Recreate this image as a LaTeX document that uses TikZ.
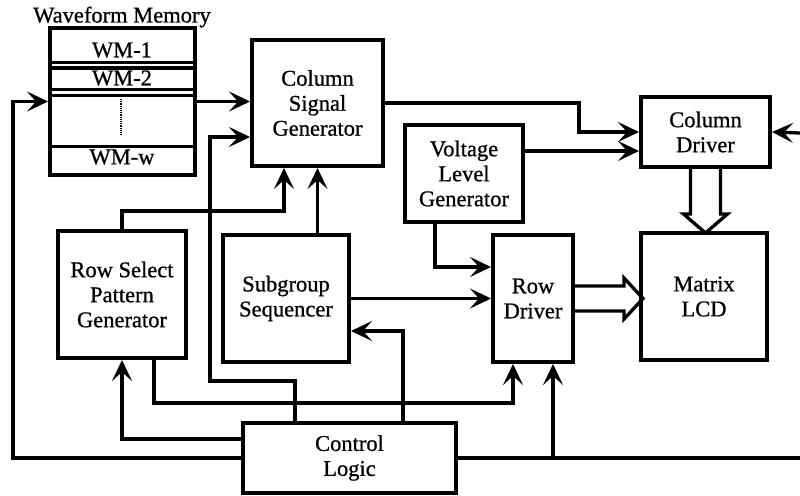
\documentclass[tikz,border=0pt]{standalone}
\usepackage{fontspec}
\setmainfont{Liberation Serif}[FakeBold=0.8]
\usetikzlibrary{arrows.meta}

\begin{document}
\begin{tikzpicture}[x=1pt,y=-1pt,
    >={Stealth[length=21pt,width=20pt,inset=9pt]},
    blk/.style={draw,line width=4pt,align=center,inner sep=0pt,font=\fontsize{22.5}{25}\selectfont},
    lbl/.style={inner sep=0pt,font=\fontsize{22.5}{25}\selectfont},
    wire/.style={line width=3.3pt},
    hollow/.style={line width=3.3pt,line join=miter}]
    \useasboundingbox (0,0) rectangle (800,495);

    % Waveform memory
    \node[blk,minimum width=145pt,minimum height=147pt] (wm) at (122.5,101.5) {};
    \node[lbl] (wmlabel) at (122,17) {Waveform Memory};
    \foreach \y in {62.5,68,89.5,95,146}
        \draw[line width=3pt] (wm.west |- 0,\y) -- (wm.east |- 0,\y);
    \node[lbl] (wm1) at (122,50) {WM-1};
    \node[lbl] (wm2) at (122,78) {WM-2};
    \node[lbl] (wmw) at (122,157) {WM-w};
    \draw[densely dotted,line width=1.2pt] (121,99) -- (121,136);

    % Blocks
    \node[blk,minimum width=131pt,minimum height=126pt] (csg) at (317.5,103) {Column\\Signal\\Generator};
    \node[blk,minimum width=129pt,minimum height=70pt] (cd) at (705.5,132) {Column\\Driver};
    \node[blk,minimum width=118pt,minimum height=97pt] (vlg) at (464,173.5) {Voltage\\Level\\Generator};
    \node[blk,minimum width=128pt,minimum height=127pt] (rspg) at (122,294.5) {Row Select\\Pattern\\Generator};
    \node[blk,minimum width=126pt,minimum height=127pt] (ss) at (286,298.5) {Subgroup\\Sequencer};
    \node[blk,minimum width=80pt,minimum height=127pt] (rd) at (533,298.5) {Row\\Driver};
    \node[blk,minimum width=126pt,minimum height=127pt] (lcd) at (704,296.5) {Matrix\\LCD};
    \node[blk,minimum width=213pt,minimum height=70pt] (ctl) at (349.5,458) {Control\\Logic};

    % Bus ends
    \coordinate (busL) at (13,458);
    \coordinate (busR) at (800,458);
    \coordinate (rdB) at (553,458);
    \coordinate (rin) at (800,133);
    \coordinate (lp) at (210,381);

    % Control logic outputs
    \draw[wire,->] (ctl.west) -- (busL) |- (wm.west);
    \draw[wire] (ctl.east) -- (busR);
    \draw[wire,->] (rdB) -- (rdB |- rd.south);
    \draw[wire,->] ([yshift=19pt]ctl.west) -| (rspg.south);
    \draw[wire,->] ([xshift=-54.5pt]ctl.north) |- (lp) |- ([yshift=-34pt]csg.west);
    \draw[wire,->] ([xshift=53.5pt]ctl.north) |- ([yshift=-32.5pt]ss.east);

    % Signal paths
    \draw[wire,->] (wm.east) -- (wm.east -| csg.west);
    \draw[wire,->] (rspg.north) -- ++(0,-18) -| ([xshift=-33.5pt]csg.south);
    \draw[wire,->] ([xshift=32pt]rspg.south) -- ++(0,43) -| ([xshift=-20pt]rd.south);
    \draw[wire,->] (csg.south |- ss.north) -- (csg.south);
    \draw[wire,->] (ss.east) -- (rd.west);
    \draw[wire,->] ([xshift=-29pt]vlg.south) |- ([yshift=31.5pt]rd.west);
    \draw[wire,->] ([yshift=22.5pt]vlg.east) -- ([yshift=22.5pt]vlg.east -| cd.west);
    \draw[wire,->] (csg.east) -- ++(194,0) |- (cd.west);
    \draw[wire,->] (rin) -- (cd.east);

    % Wide arrows
    \draw[hollow,shift={(cd.south)}] (-15,0) -- (-15,45) -- (-22,45) -- (0,64) -- (22,45) -- (15,45) -- (15,0);
    \draw[hollow,shift={(rd.east)}] (0,-12.5) -- (49,-12.5) -- (49,-20.5) -- (68,0) -- (49,20.5) -- (49,12.5) -- (0,12.5);
\end{tikzpicture}
\end{document}
